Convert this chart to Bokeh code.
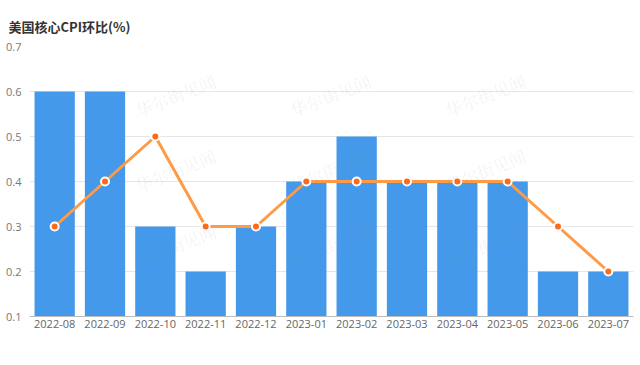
from bokeh.plotting import figure
from bokeh.models import ColumnDataSource, Legend, LegendItem, Range1d, FactorRange, Label
from bokeh.embed import file_html
from bokeh.resources import INLINE

months = ["2022-08", "2022-09", "2022-10", "2022-11", "2022-12", "2023-01",
          "2023-02", "2023-03", "2023-04", "2023-05", "2023-06", "2023-07"]
actual = [0.6, 0.6, 0.3, 0.2, 0.3, 0.4, 0.5, 0.4, 0.4, 0.4, 0.2, 0.2]
forecast = [0.3, 0.4, 0.5, 0.3, 0.3, 0.4, 0.4, 0.4, 0.4, 0.4, 0.3, 0.2]
y_ticks = [0.1, 0.2, 0.3, 0.4, 0.5, 0.6, 0.7]

src = ColumnDataSource(dict(m=months, a=actual, f=forecast))

p = figure(frame_width=604, frame_height=270,
           x_range=FactorRange(*months, range_padding=0),
           y_range=Range1d(0.1, 0.7), output_backend="svg", toolbar_location=None,
           title="美国核心CPI环比(%)")
p.min_border_left = 29
p.min_border_right = 5
p.min_border_top = 46
p.min_border_bottom = 0
p.outline_line_color = None
p.background_fill_color = "white"
p.border_fill_color = "white"

p.title.text_font = "Noto Sans CJK SC"
p.title.text_font_size = "13px"
p.title.text_font_style = "bold"
p.title.text_color = "#333333"
p.title.offset = -21
p.title.standoff = 22

bars = p.vbar(x="m", top="a", bottom=0.1, width=0.8, source=src,
              fill_color="#4499EA", line_color=None)
line = p.line(x="m", y="f", source=src, line_color="#FF9A45", line_width=3)
dots = p.scatter(x="m", y="f", source=src, size=8, fill_color="#FF6A1A",
                 line_color="white", line_width=2)

# faint watermarks (screen units from the frame's bottom-left)
for sx in (111, 266, 421):
    for sy in (44, 119, 194):
        p.add_layout(Label(x=sx, y=sy, x_units="screen", y_units="screen",
                           text="华尔街见闻", angle=0.38, text_font="Noto Serif CJK SC",
                           text_font_size="17px", text_color="#999999", text_alpha=0.12))

p.xgrid.grid_line_color = None
p.ygrid.grid_line_color = "#E6E6E6"
p.ygrid.grid_line_width = 1

p.yaxis.ticker = y_ticks
p.yaxis.axis_line_color = None
p.yaxis.major_tick_line_color = None
p.yaxis.minor_tick_line_color = None
p.yaxis.major_tick_out = 0
p.yaxis.major_label_text_color = "#777777"
p.yaxis.major_label_text_font = "Open Sans"
p.yaxis.major_label_text_font_size = "11px"
p.yaxis.major_label_standoff = 8

p.xaxis.axis_line_color = "#BBBBBB"
p.xaxis.major_tick_line_color = None
p.xaxis.minor_tick_line_color = None
p.xaxis.major_tick_out = 0
p.xaxis.major_label_text_color = "#666666"
p.xaxis.major_label_text_font = "Open Sans"
p.xaxis.major_label_text_font_size = "11px"
p.xaxis.major_label_standoff = 3

legend = Legend(items=[LegendItem(label="实际值", renderers=[bars]),
                       LegendItem(label="预测值", renderers=[line, dots])],
                orientation="horizontal", location="top_left",
                label_text_font="Noto Sans CJK SC", label_text_font_size="11px",
                label_text_color="#555555", glyph_width=22, glyph_height=10,
                spacing=8, padding=0, margin=0, border_line_color=None,
                background_fill_alpha=0, label_standoff=4, label_height=12)
p.add_layout(legend, "below")

open("out.html", "w").write(file_html(p, INLINE))
